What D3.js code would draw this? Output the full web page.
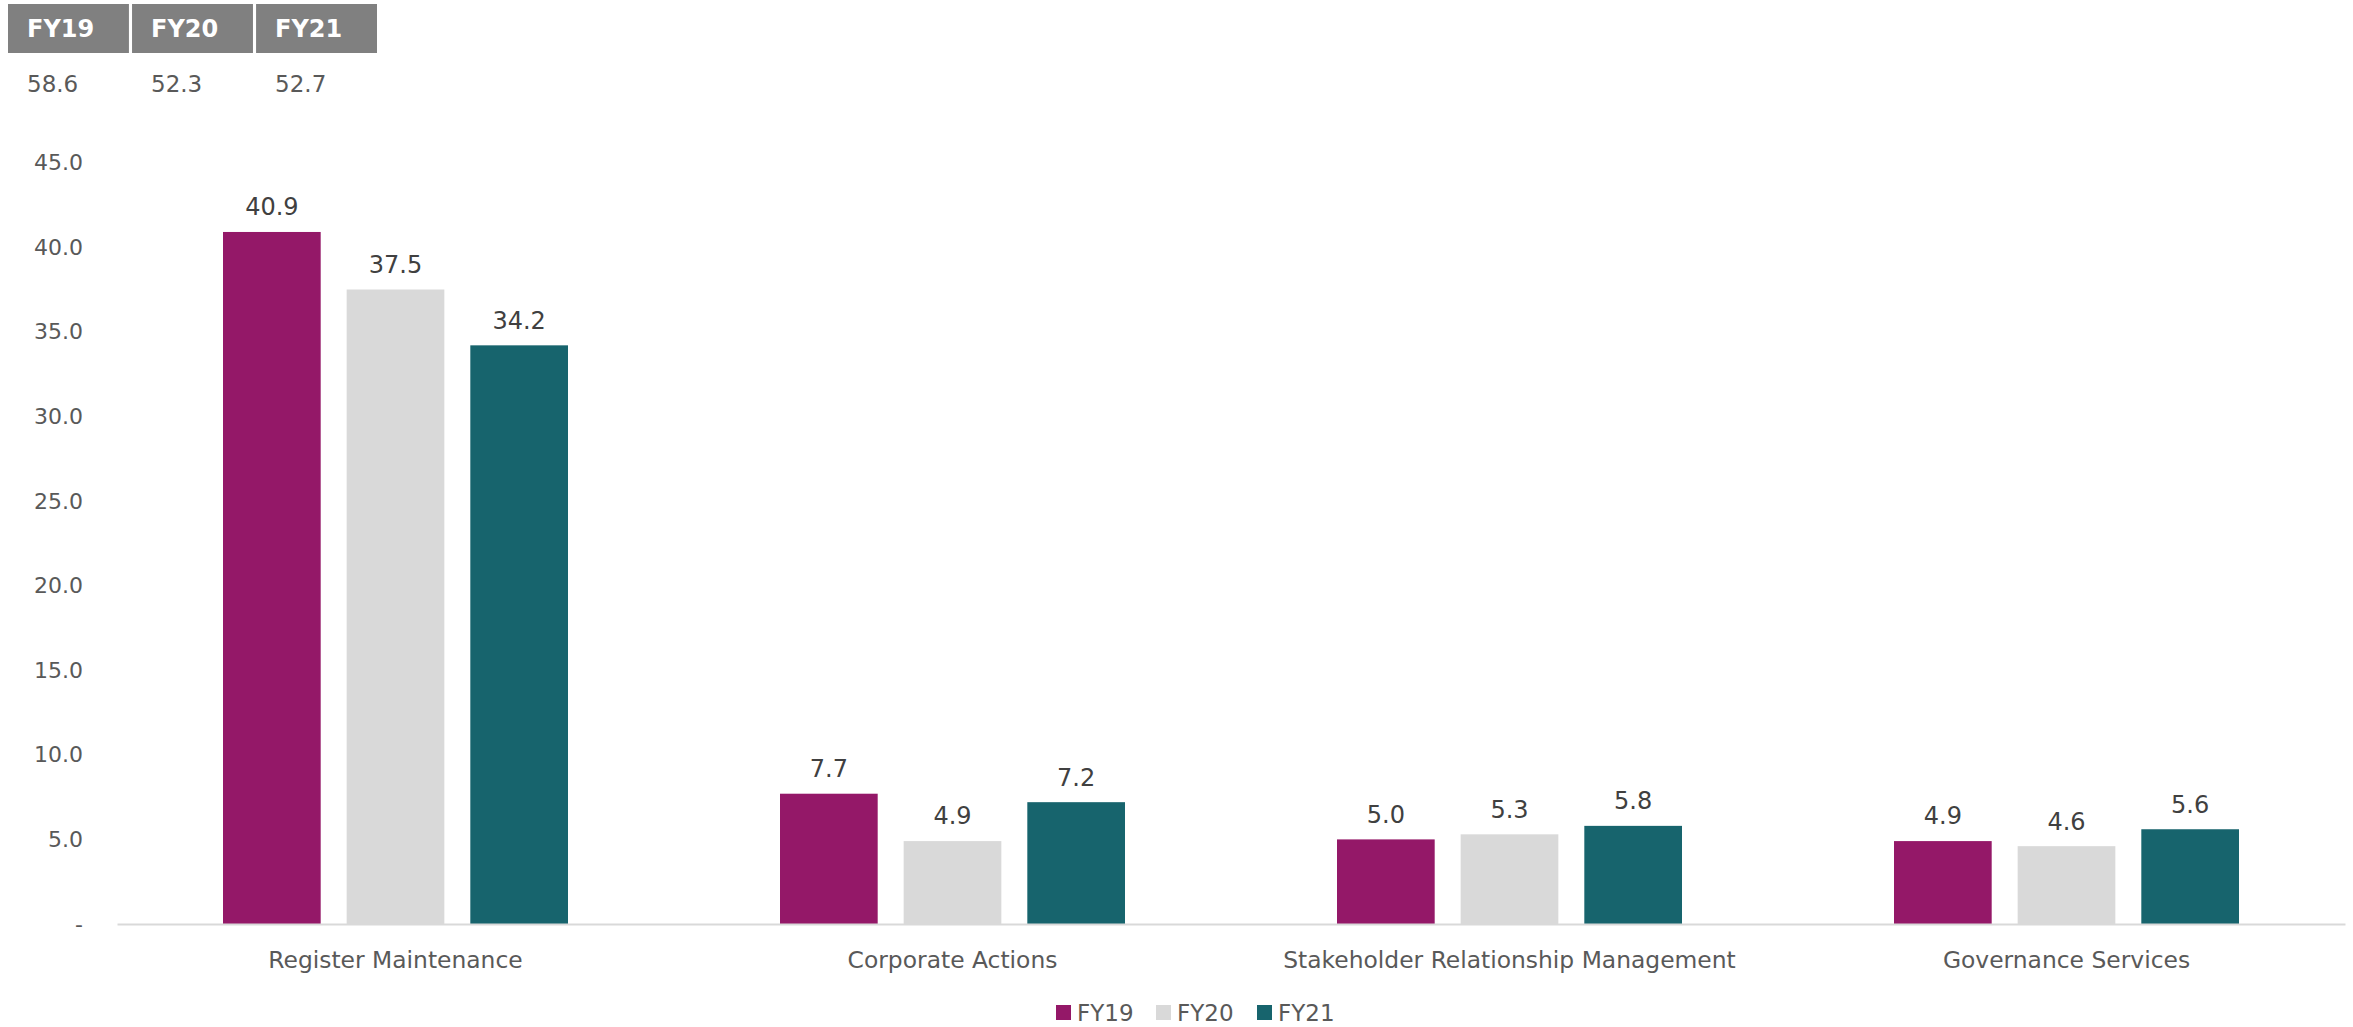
<!DOCTYPE html>
<html>
<head>
<meta charset="utf-8">
<script src="https://cdn.jsdelivr.net/npm/d3@7"></script>
<style>
  body { margin: 0; background: #fff; }
  svg { display: block; font-family: "DejaVu Sans", Verdana, sans-serif; }
</style>
</head>
<body>
<svg width="2353" height="1027"></svg>
<script>
var categories = ["Register Maintenance", "Corporate Actions", "Stakeholder Relationship Management", "Governance Services"];
var series = ["FY19", "FY20", "FY21"];
var fy19 = [40.9, 7.7, 5.0, 4.9];
var fy20 = [37.5, 4.9, 5.3, 4.6];
var fy21 = [34.2, 7.2, 5.8, 5.6];
var totals = [58.6, 52.3, 52.7];
var yTicks = [0, 5, 10, 15, 20, 25, 30, 35, 40, 45];

var colours = ["#941868", "#d9d9d9", "#17646d"];
var values = [fy19, fy20, fy21];

var svg = d3.select("svg");

var x0 = d3.scaleBand()
    .domain(categories)
    .range([117, 2345]);

var x1 = d3.scaleBand()
    .domain(series)
    .range([-172.5, 172.5])
    .paddingInner(0.21);

var y = d3.scaleLinear()
    .domain([0, 50])
    .range([924, 78]);

var colour = d3.scaleOrdinal().domain(series).range(colours);

// header boxes with totals
var hx = d3.scaleBand().domain(series).range([8, 377]).paddingInner(0.025);

var head = svg.append("g").attr("class", "header")
  .selectAll("g")
  .data(series)
  .enter().append("g");

head.append("rect")
    .attr("x", function(d) { return hx(d); })
    .attr("y", 4)
    .attr("width", hx.bandwidth())
    .attr("height", 49)
    .attr("fill", "#808080");

head.append("text")
    .attr("x", function(d) { return hx(d) + 19; })
    .attr("y", 29)
    .attr("dy", "0.35em")
    .attr("fill", "#fff")
    .attr("font-weight", "bold")
    .attr("font-size", 24)
    .text(function(d) { return d; });

head.append("text")
    .attr("x", function(d) { return hx(d) + 19; })
    .attr("y", 84)
    .attr("dy", "0.35em")
    .attr("fill", "#595959")
    .attr("font-size", 23)
    .text(function(d, i) { return totals[i].toFixed(1); });

// y axis labels
var yAxis = d3.axisLeft(y)
    .tickValues(yTicks)
    .tickSize(0)
    .tickPadding(0)
    .tickFormat(function(d) { return d === 0 ? "-" : d.toFixed(1); });

var ya = svg.append("g")
    .attr("transform", "translate(83,0)")
    .call(yAxis);
ya.select(".domain").remove();
ya.selectAll("text")
    .attr("fill", "#595959")
    .attr("font-size", 22)
    .attr("font-family", "DejaVu Sans, Verdana, sans-serif");

// bars
var groups = svg.append("g")
  .selectAll("g")
  .data(categories)
  .enter().append("g")
    .attr("transform", function(d) { return "translate(" + (x0(d) + x0.bandwidth() / 2) + ",0)"; });

groups.selectAll("rect")
  .data(function(d, i) { return series.map(function(s, j) { return { s: s, v: values[j][i] }; }); })
  .enter().append("rect")
    .attr("x", function(d) { return x1(d.s); })
    .attr("y", function(d) { return y(d.v); })
    .attr("width", x1.bandwidth())
    .attr("height", function(d) { return y(0) - y(d.v); })
    .attr("fill", function(d) { return colour(d.s); });

groups.selectAll("text.val")
  .data(function(d, i) { return series.map(function(s, j) { return { s: s, v: values[j][i] }; }); })
  .enter().append("text")
    .attr("class", "val")
    .attr("x", function(d) { return x1(d.s) + x1.bandwidth() / 2; })
    .attr("y", function(d) { return y(d.v) - 25; })
    .attr("dy", "0.35em")
    .attr("text-anchor", "middle")
    .attr("fill", "#404040")
    .attr("font-size", 24)
    .text(function(d) { return d.v.toFixed(1); });

// x axis
var xAxis = d3.axisBottom(x0).tickSize(0).tickPadding(0);
var xa = svg.append("g")
    .attr("transform", "translate(0," + y(0) + ")")
    .call(xAxis);
xa.select(".domain").attr("stroke", "#d9d9d9").attr("stroke-width", 2);
xa.selectAll("text")
    .attr("y", 36)
    .attr("dy", "0.35em")
    .attr("fill", "#595959")
    .attr("font-size", 23.4)
    .attr("font-family", "DejaVu Sans, Verdana, sans-serif");

// legend
var legendX = [1056, 1156, 1257];
var lg = svg.append("g")
  .selectAll("g")
  .data(series)
  .enter().append("g")
    .attr("transform", function(d, i) { return "translate(" + legendX[i] + ",1005)"; });

lg.append("rect")
    .attr("width", 15)
    .attr("height", 15)
    .attr("fill", function(d) { return colour(d); });

lg.append("text")
    .attr("x", 21)
    .attr("y", 8)
    .attr("dy", "0.35em")
    .attr("fill", "#595959")
    .attr("font-size", 23)
    .text(function(d) { return d; });
</script>
</body>
</html>
